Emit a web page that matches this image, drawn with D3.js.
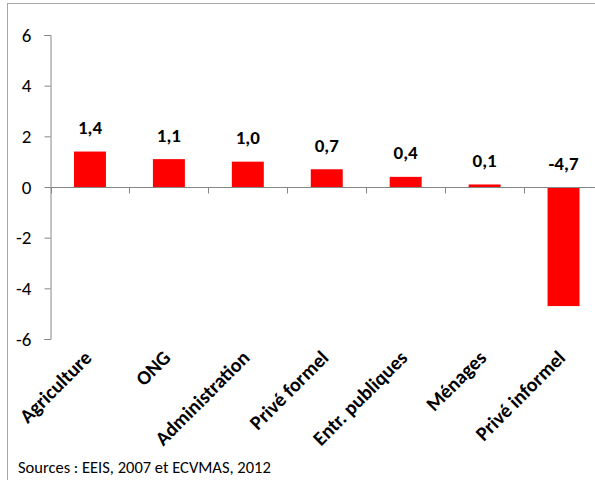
<!DOCTYPE html>
<html>
<head>
<meta charset="utf-8">
<script src="https://cdn.jsdelivr.net/npm/d3@7"></script>
<style>
  html, body { margin: 0; padding: 0; background: #fff; }
  svg { display: block; font-family: Carlito, Lato, "Open Sans", sans-serif; }
</style>
</head>
<body>
<svg id="chart" width="595" height="480"></svg>
<script>
const categories = ["Agriculture", "ONG", "Administration", "Privé formel", "Entr. publiques", "Ménages", "Privé informel"];
const values = [1.4, 1.1, 1.0, 0.7, 0.4, 0.1, -4.7];
const yTicks = [-6, -4, -2, 0, 2, 4, 6];
const sourceText = "Sources : EEIS, 2007 et ECVMAS, 2012";

const svg = d3.select("#chart");

// outer frame (only top/left visible)
svg.append("rect")
  .attr("x", 7.5).attr("y", 3.5)
  .attr("width", 700).attr("height", 600)
  .attr("fill", "none").attr("stroke", "#a6a6a6").attr("stroke-width", 1);

const x = d3.scaleBand().domain(categories).range([50.5, 603]).paddingInner(0.595).paddingOuter(0.2975);
const y = d3.scaleLinear().domain([-6, 6]).range([339, 35]);

// y axis
const yAxis = d3.axisLeft(y).tickValues(yTicks).tickSize(6).tickFormat(d => d);
const gy = svg.append("g").attr("transform", "translate(50.5,0)").call(yAxis);
gy.select(".domain").attr("stroke", "#868686");
gy.selectAll(".tick line").attr("stroke", "#868686");
gy.selectAll(".tick text")
  .attr("x", -19)
  .attr("fill", "#000")
  .style("font-size", "19px")
  .style("font-family", "Carlito, Lato, sans-serif");

// bars
svg.selectAll("rect.bar").data(values).join("rect")
  .attr("class", "bar")
  .attr("x", (d, i) => x(categories[i]))
  .attr("width", x.bandwidth())
  .attr("y", d => y(Math.max(0, d)))
  .attr("height", d => Math.abs(y(d) - y(0)))
  .attr("fill", "#ff0000");

// x axis at zero with ticks at band boundaries
const gx = svg.append("g").attr("transform", `translate(0,${y(0)})`);
gx.append("line").attr("x1", 50.5).attr("x2", 603).attr("y1", 0.5).attr("y2", 0.5)
  .attr("stroke", "#868686");
const step = x.step();
const boundaries = d3.range(categories.length + 1).map(i => 50.5 + i * step);
gx.selectAll("line.tk").data(boundaries).join("line")
  .attr("class", "tk")
  .attr("x1", d => Math.round(d) + 0.5).attr("x2", d => Math.round(d) + 0.5)
  .attr("y1", 0.5).attr("y2", 6.5)
  .attr("stroke", "#868686");

// value labels
const fmt = v => d3.format(".1f")(v).replace(".", ",").replace("−", "-");
svg.selectAll("text.val").data(values).join("text")
  .attr("class", "val")
  .attr("x", (d, i) => x(categories[i]) + x.bandwidth() / 2)
  .attr("y", d => y(Math.max(0, d)) - 17.5)
  .attr("text-anchor", "middle")
  .style("font-size", "19px")
  .style("font-weight", "bold")
  .attr("fill", "#000")
  .text(d => fmt(d));

// category labels (rotated)
svg.selectAll("text.cat").data(categories).join("text")
  .attr("class", "cat")
  .attr("text-anchor", "end")
  .attr("transform", d => `translate(${x(d) + x.bandwidth() / 2 + 3},${359}) rotate(-45)`)
  .style("font-size", "20px")
  .style("font-weight", "bold")
  .attr("fill", "#000")
  .text(d => d);

// source
svg.append("text")
  .attr("x", 18).attr("y", 473)
  .style("font-size", "16.5px")
  .attr("fill", "#000")
  .text(sourceText);
</script>
</body>
</html>
